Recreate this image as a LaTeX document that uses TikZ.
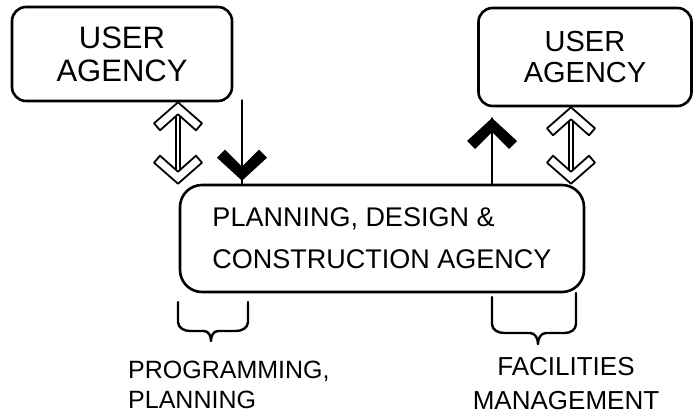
\documentclass[tikz,border=0pt]{standalone}
\usepackage{fontspec}
\setmainfont{Liberation Sans}
\usetikzlibrary{calc}

\tikzset{
  agency/.style={draw, line width=2.6pt, rounded corners=14pt, inner sep=0pt},
  tag/.style={inner sep=0pt, font=\fontsize{25}{30}\selectfont},
  shaft/.style={double, double distance=2.6pt, line width=1.3pt},
  brace/.style={line width=2.4pt, line join=round},
  openhead/.pic={\draw[line width=1.8pt, line join=round, fill=white]
    (0,0) -- (24,21) -- (18,28) -- (0,12) -- (-18,28) -- (-24,21) -- cycle;},
  solidhead/.pic={\fill
    (0,0) -- (25,-23) -- (17,-31) -- (0,-14) -- (-17,-31) -- (-25,-23) -- cycle;},
}

\begin{document}
\begin{tikzpicture}[x=1pt, y=-1pt, line cap=round]
  \useasboundingbox (0,0) rectangle (694,420);

  \node[agency, minimum width=220pt, minimum height=94pt, align=center,
        font=\fontsize{31}{33}\selectfont] (user1) at (122,54) {USER\\AGENCY};
  \node[agency, minimum width=213pt, minimum height=98pt, align=center,
        font=\fontsize{29}{31}\selectfont] (user2) at (585,57) {USER\\AGENCY};
  \node[agency, rounded corners=22pt, minimum width=404pt, minimum height=107pt,
        align=left, font=\fontsize{27}{42}\selectfont] (main) at (382,238.5)
        {PLANNING, DESIGN \&\\CONSTRUCTION AGENCY};

  \coordinate (linkl) at (178,0);
  \coordinate (linkr) at (571,0);
  \coordinate (demand) at (242,100);
  \coordinate (feedback) at (492,118);

  % two-way links
  \draw[shaft] ($(user1.south -| linkl)+(0,10)$) -- ($(main.north -| linkl)+(0,-10)$);
  \path (user1.south -| linkl) pic {openhead};
  \path (main.north -| linkl) pic[rotate=180] {openhead};
  \draw[shaft] ($(user2.south -| linkr)+(0,10)$) -- ($(main.north -| linkr)+(0,-10)$);
  \path (user2.south -| linkr) pic {openhead};
  \path (main.north -| linkr) pic[rotate=180] {openhead};

  % one-way flows
  \draw[line width=1.4pt] (demand) -- (main.north -| demand);
  \path ($(main.north -| demand)+(0,-3)$) pic {solidhead};
  \draw[line width=1.4pt] (main.north -| feedback) -- (feedback);
  \path (feedback) pic[rotate=180] {solidhead};

  % braces
  \draw[brace]
    (178,302) -- (178,322) to[out=-90,in=180] (190,331) -- (204,331)
    to[out=0,in=90] (211,341) to[out=90,in=180] (218,331) -- (236,331)
    to[out=0,in=-90] (248,322) -- (248,302);
  \draw[brace]
    (492,297) -- (492,324) to[out=-90,in=180] (504,333) -- (530,333)
    to[out=0,in=90] (538,344) to[out=90,in=180] (546,333) -- (565,333)
    to[out=0,in=-90] (576,324) -- (576,293);

  \node[tag, anchor=north west, align=left] (prog) at (128,361) {PROGRAMMING,\\PLANNING};
  \node[tag, anchor=north, align=center, font=\fontsize{26}{34}\selectfont] (fm) at (566,357)
    {FACILITIES\\MANAGEMENT};
\end{tikzpicture}
\end{document}
